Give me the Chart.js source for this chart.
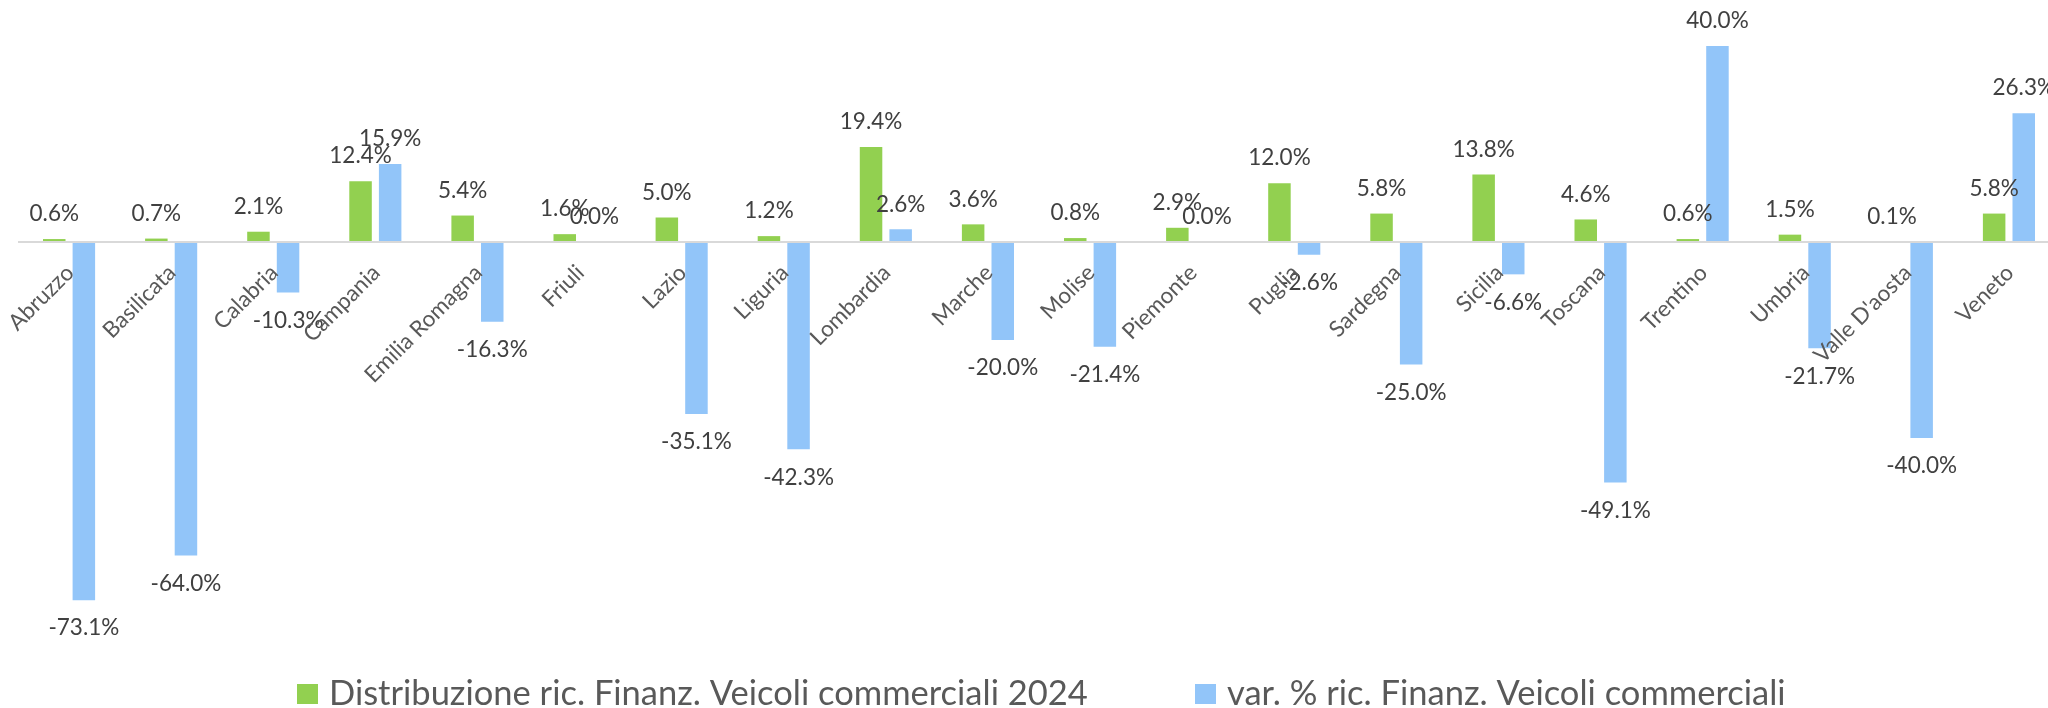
<!DOCTYPE html>
<html lang="it">
<head>
<meta charset="utf-8">
<title>Finanziamenti veicoli commerciali per regione</title>
<script src="https://cdn.jsdelivr.net/npm/chart.js@4.4.1/dist/chart.umd.min.js"></script>
<style>
  html, body { margin: 0; padding: 0; background: #fff; overflow: hidden; }
  #wrap { width: 2080px; height: 708px; }
</style>
</head>
<body>
<div id="wrap"><canvas id="regioni-chart" width="2080" height="708"></canvas></div>
<script>
const regions = ['Abruzzo', 'Basilicata', 'Calabria', 'Campania', 'Emilia Romagna', 'Friuli', 'Lazio',
  'Liguria', 'Lombardia', 'Marche', 'Molise', 'Piemonte', 'Puglia', 'Sardegna', 'Sicilia', 'Toscana',
  'Trentino', 'Umbria', "Valle D'aosta", 'Veneto'];

// share of commercial vehicle finance requests 2024 (%)
const distribuzione2024 = [0.6, 0.7, 2.1, 12.4, 5.4, 1.6, 5.0, 1.2, 19.4, 3.6, 0.8, 2.9, 12.0, 5.8, 13.8, 4.6, 0.6, 1.5, 0.1, 5.8];

// year on year change of requests (%)
const variazione = [-73.1, -64.0, -10.3, 15.9, -16.3, 0.0, -35.1, -42.3, 2.6, -20.0, -21.4, 0.0, -2.6, -25.0, -6.6, -49.1, 40.0, -21.7, -40.0, 26.3];

const seriesNames = ['Distribuzione ric. Finanz. Veicoli commerciali 2024', 'var. % ric. Finanz. Veicoli commerciali'];
const seriesColors = ['#92D050', '#92C5F9'];

const yMin = -80;
const yMax = 40;

const FONT = 'Lato, "Open Sans", sans-serif';

// zero line, value labels, rotated region names and the legend
const annotate = {
  id: 'annotate',
  afterDatasetsDraw(chart) {
    const ctx = chart.ctx;
    const x = chart.scales.x;
    const y = chart.scales.y;
    const zeroY = y.getPixelForValue(0);

    ctx.save();
    ctx.strokeStyle = '#D9D9D9';
    ctx.lineWidth = 2;
    ctx.beginPath();
    ctx.moveTo(chart.chartArea.left, zeroY);
    ctx.lineTo(chart.chartArea.right, zeroY);
    ctx.stroke();

    // value labels at the outer end of each bar
    ctx.font = '22.5px ' + FONT;
    ctx.fillStyle = '#404040';
    ctx.textAlign = 'center';
    ctx.textBaseline = 'middle';
    chart.data.datasets.forEach((ds, i) => {
      chart.getDatasetMeta(i).data.forEach((bar, j) => {
        const v = ds.data[j];
        const ly = v >= 0 ? bar.y - 25 : bar.y + 28;
        ctx.fillText(v.toFixed(1) + '%', bar.x, ly);
      });
    });

    // region names just under the axis, slanted
    ctx.font = '22.5px ' + FONT;
    ctx.fillStyle = '#595959';
    ctx.textAlign = 'right';
    regions.forEach((name, i) => {
      const cx = x.getPixelForValue(i);
      ctx.save();
      ctx.translate(cx + 1, zeroY + 27);
      ctx.rotate(-Math.PI / 4);
      ctx.fillText(name, 0, 0);
      ctx.restore();
    });

    // legend
    ctx.font = '34.5px ' + FONT;
    ctx.textAlign = 'left';
    ctx.textBaseline = 'alphabetic';
    const box = 21;
    const legendX = [297, 1195];
    const baseY = 705;
    seriesNames.forEach((n, i) => {
      ctx.fillStyle = seriesColors[i];
      ctx.fillRect(legendX[i], baseY - 21, box, box - 1);
      ctx.fillStyle = '#595959';
      ctx.fillText(n, legendX[i] + box + 11, baseY);
    });
    ctx.restore();
  }
};

const chart = new Chart(document.getElementById('regioni-chart'), {
  type: 'bar',
  data: {
    labels: regions,
    datasets: [
      { label: seriesNames[0], data: distribuzione2024, backgroundColor: seriesColors[0] },
      { label: seriesNames[1], data: variazione, backgroundColor: seriesColors[1] }
    ]
  },
  options: {
    responsive: false,
    animation: false,
    devicePixelRatio: 1,
    categoryPercentage: 0.58,
    barPercentage: 0.76,
    layout: { padding: { top: 46, bottom: 74, left: 18, right: 20 } },
    scales: {
      x: { display: false },
      y: { display: false, min: yMin, max: yMax }
    },
    plugins: {
      legend: { display: false },
      tooltip: { enabled: false }
    }
  },
  plugins: [annotate]
});
</script>
</body>
</html>
